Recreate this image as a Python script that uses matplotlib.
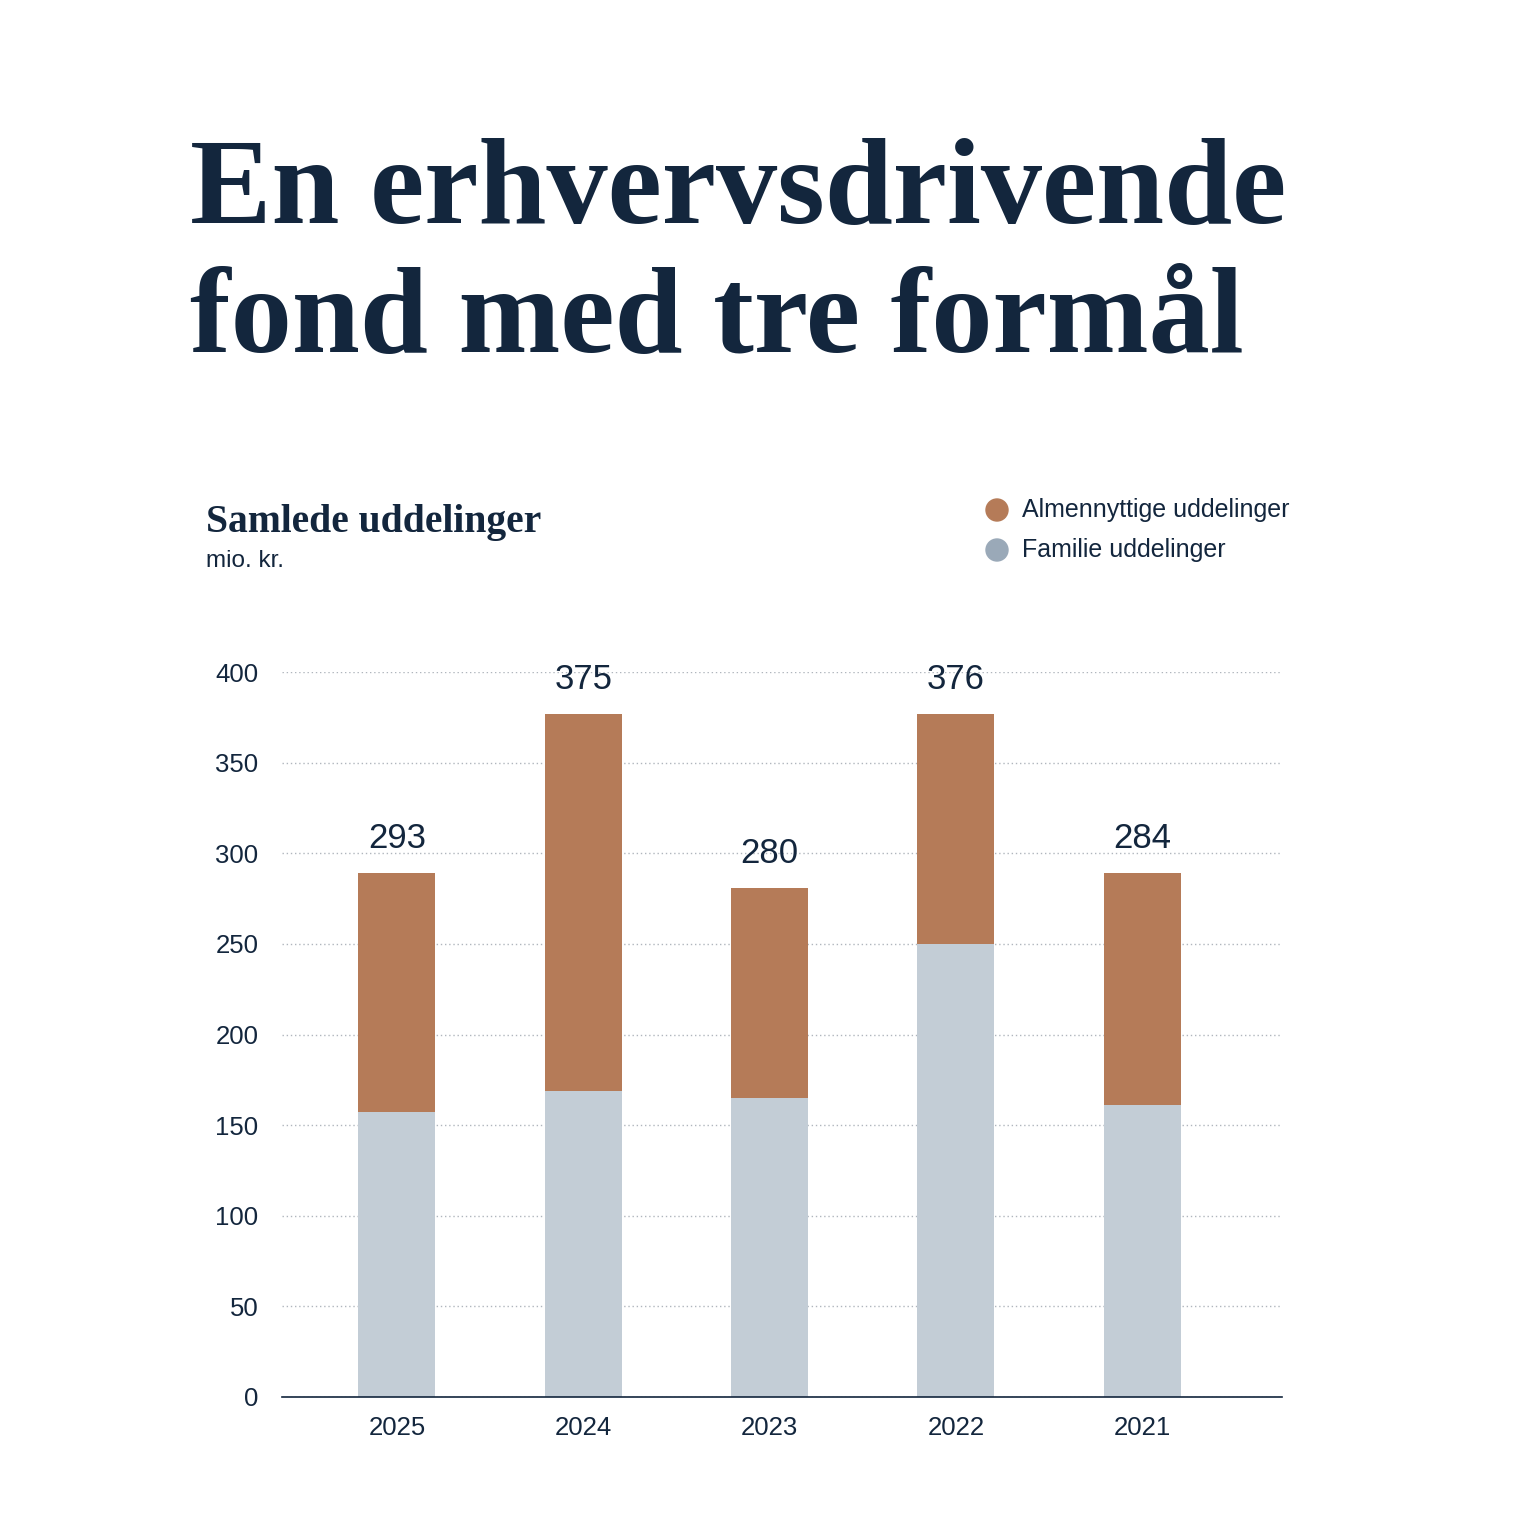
import numpy as np
import matplotlib.pyplot as plt

# values in mio. kr.
years = ['2025', '2024', '2023', '2022', '2021']
familie = [157, 169, 165, 250, 161]
almen = [132, 208, 116, 127, 128]
total_labels = ['293', '375', '280', '376', '284']
yticks = [0, 50, 100, 150, 200, 250, 300, 350, 400]

navy = '#13263d'
brown = '#b57b58'
grey_bar = '#c3cdd6'
grey_dot = '#9aa9b8'

fig = plt.figure(figsize=(15.36, 15.36), dpi=100)
fig.patch.set_facecolor('white')

# title
fig.text(190/1536, 1 - 223/1536, 'En erhvervsdrivende', fontsize=88, fontweight='bold',
         family='Liberation Serif', color=navy, ha='left', va='baseline')
fig.text(190/1536, 1 - 352/1536, 'fond med tre formål', fontsize=88, fontweight='bold',
         family='Liberation Serif', color=navy, ha='left', va='baseline')

# chart heading
fig.text(206/1536, 1 - 532/1536, 'Samlede uddelinger', fontsize=28.5, fontweight='bold',
         family='Liberation Serif', color=navy, ha='left', va='baseline')
fig.text(206/1536, 1 - 567/1536, 'mio. kr.', fontsize=17.5,
         family='Liberation Sans', color=navy, ha='left', va='baseline')

# legend
fig.patches.append(plt.Circle((997/1536, 1 - 510/1536), 11/1536, transform=fig.transFigure,
                              color=brown, figure=fig))
fig.patches.append(plt.Circle((997/1536, 1 - 550/1536), 11/1536, transform=fig.transFigure,
                              color=grey_dot, figure=fig))
fig.text(1022/1536, 1 - 510/1536, 'Almennyttige uddelinger', fontsize=18,
         family='Liberation Sans', color=navy, ha='left', va='center')
fig.text(1022/1536, 1 - 550/1536, 'Familie uddelinger', fontsize=18,
         family='Liberation Sans', color=navy, ha='left', va='center')

ax = fig.add_axes([282/1536, 1 - 1397/1536, 1000/1536, 725/1536])
x = np.arange(len(years))
w = 0.413
ax.bar(x, familie, width=w, color=grey_bar, zorder=2)
ax.bar(x, almen, width=w, bottom=familie, color=brown, zorder=2)

tot = np.array(familie) + np.array(almen)
for xi, t, lab in zip(x, tot, total_labels):
    ax.text(xi, t + 10, lab, ha='center', va='bottom', fontsize=25,
            family='Liberation Sans', color=navy, clip_on=False)

ax.set_xlim(-0.617, 4.75)
ax.set_ylim(0, 400)
ax.set_yticks(yticks)
ax.set_yticklabels([str(v) for v in yticks], fontsize=18.5, family='Liberation Sans', color=navy)
ax.set_xticks(x)
ax.set_xticklabels(years, fontsize=18.5, family='Liberation Sans', color=navy)
ax.tick_params(axis='both', length=0)
ax.tick_params(axis='y', pad=17)
ax.tick_params(axis='x', pad=14)
ax.yaxis.grid(True, linestyle=(0, (1, 2)), color='#b0b6bd', linewidth=1, zorder=0)
ax.set_axisbelow(True)
for s in ['top', 'right', 'left']:
    ax.spines[s].set_visible(False)
ax.spines['bottom'].set_color(navy)
ax.spines['bottom'].set_linewidth(1.2)
ax.spines['bottom'].set_zorder(3)

fig.savefig('out.png', dpi=100, facecolor='white')
